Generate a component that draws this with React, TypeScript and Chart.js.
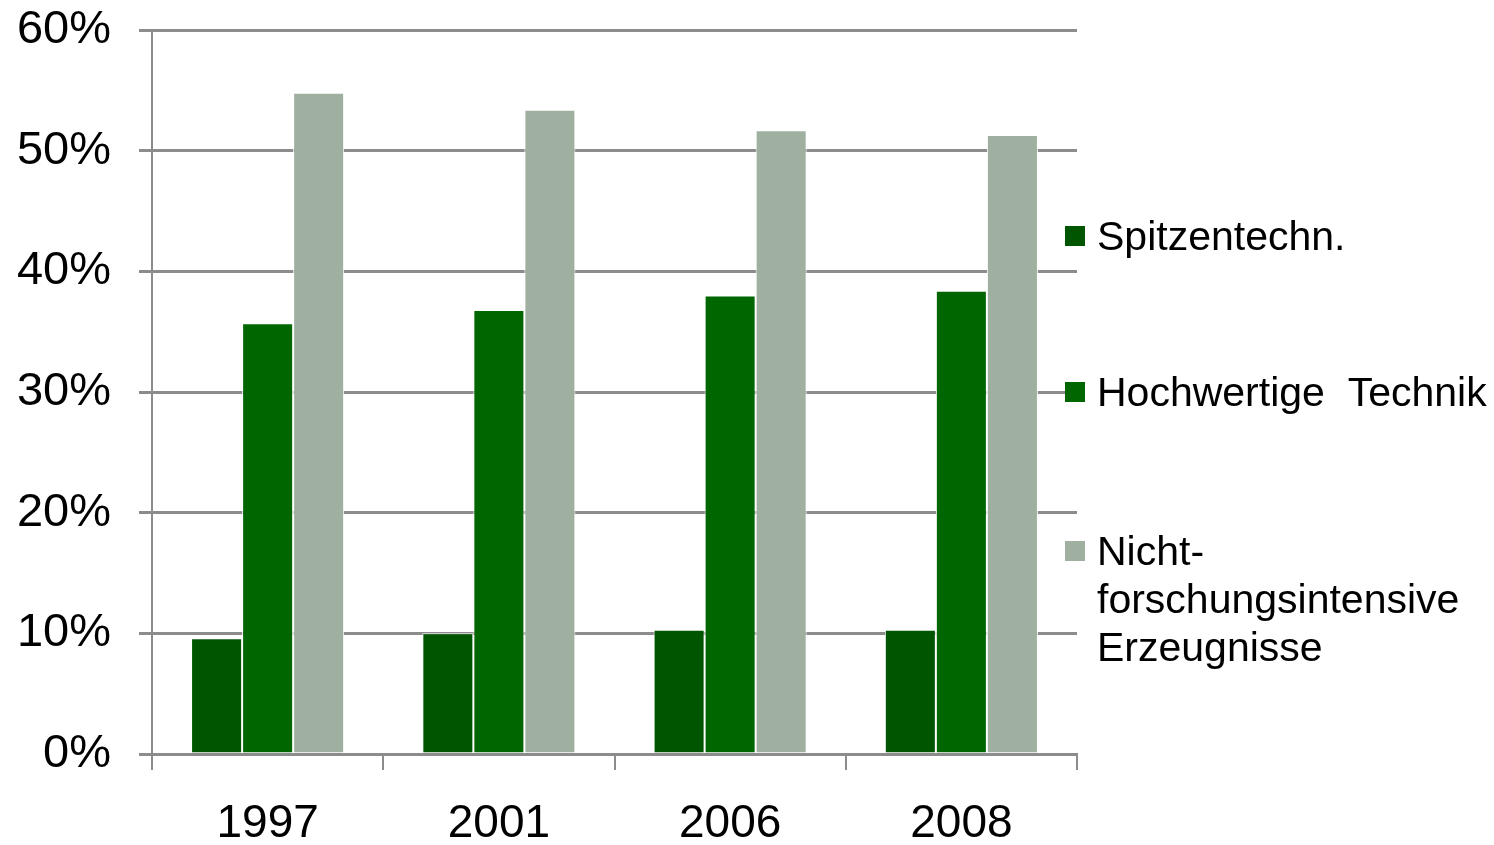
import React, { useEffect, useRef } from "react";
import { Chart, registerables } from "chart.js";

Chart.register(...registerables);

const categories = ["1997", "2001", "2006", "2008"];
const seriesNames = ["Spitzentechn.", "Hochwertige  Technik", "Nicht-\nforschungsintensive\nErzeugnisse"];
const spitzentechn = [9.6, 10.0, 10.3, 10.3];
const hochwertige = [35.7, 36.8, 38.0, 38.4];
const nichtForschung = [54.8, 53.4, 51.7, 51.3];
const yTicks = [0, 10, 20, 30, 40, 50, 60];
const colors = ["#005500", "#006600", "#a0b0a0"];

const FONT = "'Liberation Sans', Arial, sans-serif";
const GRID = "#8c8c8c";

export default function App() {
  const ref = useRef<HTMLCanvasElement | null>(null);

  useEffect(() => {
    if (!ref.current) return;
    const chart = new Chart(ref.current, {
      type: "bar",
      data: {
        labels: categories,
        datasets: [spitzentechn, hochwertige, nichtForschung].map((d, i) => ({
          label: seriesNames[i],
          data: d,
          backgroundColor: colors[i],
          borderColor: "#ffffff",
          borderWidth: 1,
          categoryPercentage: 0.662,
          barPercentage: 1.0,
        })),
      },
      options: {
        animation: false,
        responsive: false,
        maintainAspectRatio: false,
        layout: { padding: { top: 30, right: 417, left: 0, bottom: 0 } },
        plugins: { legend: { display: false }, tooltip: { enabled: false } },
        scales: {
          x: {
            offset: true,
            grid: {
              display: true,
              drawOnChartArea: false,
              drawTicks: true,
              tickLength: 16,
              offset: true,
              color: GRID,
              lineWidth: 2,
            },
            border: { display: true, color: GRID, width: 3 },
            ticks: {
              color: "#000000",
              font: { family: FONT, size: 46 },
              padding: 27,
            },
            afterFit: (s: any) => {
              s.height = 91;
              s.paddingLeft = 0;
              s.paddingRight = 0;
            },
          },
          y: {
            min: 0,
            max: 60,
            afterBuildTicks: (s: any) => {
              s.ticks = yTicks.map((v) => ({ value: v }));
            },
            grid: {
              color: GRID,
              lineWidth: 3,
              tickLength: 13,
              drawTicks: true,
            },
            border: { display: true, color: GRID, width: 2 },
            ticks: {
              color: "#000000",
              font: { family: FONT, size: 47 },
              padding: 28,
              callback: (v: any) => v + "%",
            },
            afterFit: (s: any) => {
              s.width = 152;
              s.paddingTop = 0;
              s.paddingBottom = 0;
            },
          },
        },
      },
    });
    return () => chart.destroy();
  }, []);

  const legendRows = [
    { top: 212, lines: ["Spitzentechn."] },
    { top: 368, lines: ["Hochwertige\u00a0\u00a0Technik"] },
    { top: 527, lines: ["Nicht-", "forschungsintensive", "Erzeugnisse"] },
  ];

  return (
    <div
      style={{
        position: "absolute",
        left: 0,
        top: 0,
        width: 1494,
        height: 845,
        background: "#ffffff",
        overflow: "hidden",
      }}
    >
      <canvas ref={ref} width={1494} height={845} style={{ display: "block", width: 1494, height: 845 }} />
      {legendRows.map((r, i) => (
        <div key={i} style={{ position: "absolute", left: 1065, top: r.top }}>
          <div
            style={{
              position: "absolute",
              left: 0,
              top: 14,
              width: 20,
              height: 20,
              background: colors[i],
            }}
          />
          <div
            style={{
              position: "absolute",
              left: 32,
              top: 0,
              fontFamily: FONT,
              fontSize: 41,
              lineHeight: "48px",
              color: "#000000",
              whiteSpace: "nowrap",
            }}
          >
            {r.lines.map((l, j) => (
              <div key={j}>{l}</div>
            ))}
          </div>
        </div>
      ))}
    </div>
  );
}
